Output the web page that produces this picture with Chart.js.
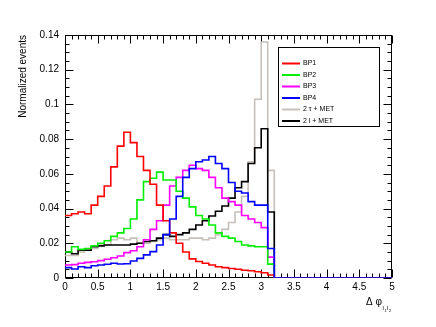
<!DOCTYPE html>
<html>
<head>
<meta charset="utf-8">
<script src="https://cdn.jsdelivr.net/npm/chart.js@4.4.0/dist/chart.umd.min.js"></script>
<style>
  html, body { margin: 0; padding: 0; background: #fff; }
  #wrap { width: 436px; height: 327px; }
</style>
</head>
<body>
<div id="wrap"><canvas id="dphiChart" width="436" height="327"></canvas></div>
<script>
/* ====== DATA : 50 bins of width 0.1 from 0 to 5 ====== */
const binEdges = [
  0.0, 0.1, 0.2, 0.3, 0.4, 0.5, 0.6, 0.7, 0.8, 0.9,
  1.0, 1.1, 1.2, 1.3, 1.4, 1.5, 1.6, 1.7, 1.8, 1.9,
  2.0, 2.1, 2.2, 2.3, 2.4, 2.5, 2.6, 2.7, 2.8, 2.9,
  3.0, 3.1, 3.2, 3.3, 3.4, 3.5, 3.6, 3.7, 3.8, 3.9,
  4.0, 4.1, 4.2, 4.3, 4.4, 4.5, 4.6, 4.7, 4.8, 4.9, 5.0
];

const bp1 = [
  0.036, 0.037, 0.038, 0.037, 0.042, 0.047, 0.053, 0.064, 0.076, 0.084,
  0.078, 0.070, 0.062, 0.054, 0.042, 0.033, 0.026, 0.020, 0.015, 0.011,
  0.0095, 0.0085, 0.0075, 0.0065, 0.006, 0.0055, 0.005, 0.0045, 0.0042, 0.0036,
  0.003, 0.0017, 0, 0, 0, 0, 0, 0, 0, 0,
  0, 0, 0, 0, 0, 0, 0, 0, 0, 0
];
const bp2 = [
  0.015, 0.018, 0.0165, 0.017, 0.0185, 0.020, 0.0215, 0.024, 0.026, 0.0285,
  0.034, 0.045, 0.0555, 0.0575, 0.061, 0.0565, 0.0565, 0.050, 0.046, 0.041,
  0.036, 0.034, 0.0305, 0.026, 0.024, 0.023, 0.021, 0.019, 0.0185, 0.018,
  0.018, 0.008, 0, 0, 0, 0, 0, 0, 0, 0,
  0, 0, 0, 0, 0, 0, 0, 0, 0, 0
];
const bp3 = [
  0.0075, 0.0077, 0.0085, 0.009, 0.0094, 0.010, 0.0108, 0.0117, 0.0127, 0.0146,
  0.0157, 0.018, 0.022, 0.028, 0.033, 0.042, 0.053, 0.058, 0.062, 0.065,
  0.063, 0.062, 0.058, 0.052, 0.046, 0.044, 0.042, 0.036, 0.034, 0.032,
  0.029, 0.012, 0, 0, 0, 0, 0, 0, 0, 0,
  0, 0, 0, 0, 0, 0, 0, 0, 0, 0
];
const bp4 = [
  0.006, 0.0052, 0.0065, 0.006, 0.0071, 0.0075, 0.0079, 0.0085, 0.0081, 0.0082,
  0.0098, 0.0113, 0.0133, 0.0152, 0.019, 0.025, 0.034, 0.047, 0.058, 0.063,
  0.067, 0.068, 0.070, 0.066, 0.063, 0.055, 0.050, 0.049, 0.044, 0.042,
  0.042, 0.017, 0, 0, 0, 0, 0, 0, 0, 0,
  0, 0, 0, 0, 0, 0, 0, 0, 0, 0
];
const tauMet = [
  0.013, 0.013, 0.015, 0.016, 0.017, 0.019, 0.019, 0.022, 0.023, 0.022,
  0.023, 0.020, 0.020, 0.021, 0.022, 0.023, 0.022, 0.022, 0.022, 0.023,
  0.023, 0.022, 0.023, 0.025, 0.028, 0.032, 0.038, 0.047, 0.067, 0.103,
  0.136, 0.062, 0, 0, 0, 0, 0, 0, 0, 0,
  0, 0, 0, 0, 0, 0, 0, 0, 0, 0
];
const lepMet = [
  0.015, 0.014, 0.016, 0.016, 0.018, 0.0185, 0.019, 0.019, 0.019, 0.019,
  0.0195, 0.020, 0.021, 0.0215, 0.023, 0.025, 0.024, 0.025, 0.026, 0.028,
  0.0305, 0.033, 0.0357, 0.0385, 0.0415, 0.046, 0.052, 0.0555, 0.066, 0.075,
  0.086, 0.038, 0, 0, 0, 0, 0, 0, 0, 0,
  0, 0, 0, 0, 0, 0, 0, 0, 0, 0
];

const seriesLabels = ["BP1", "BP2", "BP3", "BP4", "2 \u03c4 + MET", "2 l + MET"];
const seriesValues = [bp1, bp2, bp3, bp4, tauMet, lepMet];
const seriesColors = ["#ff0000", "#00ee00", "#ff00ff", "#0000ff", "#c8c0ba", "#000000"];
const drawOrder = [1, 2, 3, 0, 5, 4];   // lower = drawn on top

// step outline: one point per bin low edge, closing point at the last edge
function histPoints(vals) {
    const pts = vals.map((v, i) => ({ x: binEdges[i], y: v }));
    pts.push({ x: binEdges[binEdges.length - 1], y: 0 });
    return pts;
}

const FONT = '"Liberation Sans", Arial, Helvetica, sans-serif';

/* ====== ROOT-LIKE FRAME, TICKS, TITLES, LEGEND ====== */
const rootFrame = {
    id: "rootFrame",
    beforeDatasetsDraw(chart) {
        const { ctx, chartArea: a, scales: { x, y } } = chart;
        ctx.save();
        ctx.strokeStyle = "#000";
        ctx.lineWidth = 1;
        const L = Math.round(a.left) + 0.5, R = Math.round(a.right) - 0.5;
        const T = Math.round(a.top) + 0.5, B = Math.round(a.bottom) - 0.5;
        ctx.strokeRect(L, T, R - L, B - T);
        ctx.beginPath();
        for (let k = 0; k <= 50; k++) {
            const px = Math.round(x.getPixelForValue(k / 10)) + 0.5;
            const len = k % 5 === 0 ? 8 : 4;
            ctx.moveTo(px, B); ctx.lineTo(px, B - len);
            ctx.moveTo(px, T); ctx.lineTo(px, T + len);
        }
        for (let k = 0; k <= 28; k++) {
            const py = Math.round(y.getPixelForValue(k * 0.005)) + 0.5;
            const len = k % 4 === 0 ? 8 : 4;
            ctx.moveTo(L, py); ctx.lineTo(L + len, py);
            ctx.moveTo(R, py); ctx.lineTo(R - len, py);
        }
        ctx.stroke();
        ctx.restore();
    },
    afterDraw(chart) {
        const { ctx } = chart;
        ctx.save();
        ctx.fillStyle = "#000";

        // y title
        ctx.save();
        ctx.translate(23, 35);
        ctx.rotate(-Math.PI / 2);
        ctx.font = "10px " + FONT;
        ctx.textAlign = "right";
        ctx.textBaseline = "middle";
        ctx.fillText("Normalized events", 0, 0);
        ctx.restore();

        // x title  Δ φ_{l1 l2}
        ctx.textBaseline = "alphabetic";
        ctx.textAlign = "left";
        ctx.font = "10px " + FONT;
        ctx.fillText("\u0394 \u03c6", 366, 305);
        ctx.font = "6px " + FONT;
        ctx.fillText("l", 382.5, 310);
        ctx.fillText("l", 387, 310);
        ctx.font = "4px " + FONT;
        ctx.fillText("1", 384.5, 312);
        ctx.fillText("2", 389, 312);

        // legend box
        const bx = 278.5, by = 47.5, bw = 101, bh = 79;
        ctx.fillStyle = "#fff";
        ctx.fillRect(bx, by, bw, bh);
        ctx.strokeStyle = "#000";
        ctx.lineWidth = 1;
        ctx.strokeRect(bx, by, bw, bh);
        ctx.font = "7px " + FONT;
        ctx.textBaseline = "middle";
        chart.data.datasets.forEach((ds, i) => {
            const ry = 63.5 + i * 11.5;
            ctx.strokeStyle = ds.borderColor;
            ctx.lineWidth = 2;
            ctx.beginPath();
            ctx.moveTo(282, ry); ctx.lineTo(300, ry);
            ctx.stroke();
            ctx.fillStyle = "#000";
            ctx.fillText(ds.label, 303, ry);
        });
        ctx.restore();
    }
};

/* ====== HISTOGRAMS ====== */
new Chart(document.getElementById("dphiChart"), {
    type: "line",
    data: {
        datasets: seriesLabels.map((lab, i) => ({
            label: lab,
            data: histPoints(seriesValues[i]),
            borderColor: seriesColors[i],
            borderWidth: 1.6,
            stepped: true,
            pointRadius: 0,
            fill: false,
            order: drawOrder[i],
        }))
    },
    options: {
        responsive: false,
        animation: false,
        devicePixelRatio: 1,
        layout: { padding: { left: 0, right: 44, top: 35, bottom: 0 } },
        plugins: { legend: { display: false }, tooltip: { enabled: false } },
        scales: {
            x: {
                type: "linear",
                min: 0,
                max: 5,
                grid: { display: false, drawTicks: false },
                border: { display: false },
                ticks: {
                    stepSize: 0.5,
                    padding: 3,
                    maxRotation: 0,
                    color: "#000",
                    font: { family: FONT, size: 10 },
                    callback: v => String(+v.toFixed(1))
                },
                afterFit: s => { s.height = 49; }
            },
            y: {
                min: 0,
                max: 0.14,
                grid: { display: false, drawTicks: false },
                border: { display: false },
                ticks: {
                    stepSize: 0.02,
                    padding: 6,
                    color: "#000",
                    font: { family: FONT, size: 10 },
                    callback: v => String(+v.toFixed(2))
                },
                afterFit: s => { s.width = 65; }
            }
        }
    },
    plugins: [rootFrame]
});
</script>
</body>
</html>
